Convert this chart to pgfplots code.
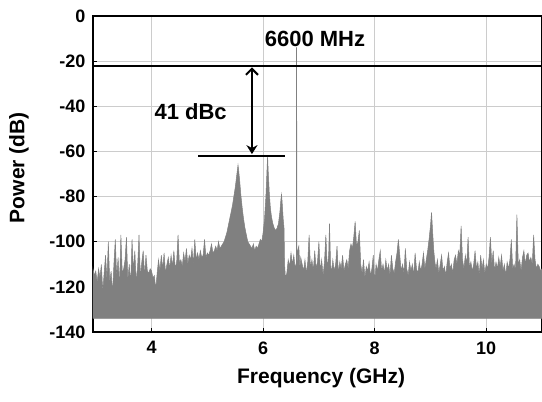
\documentclass[border=0pt]{standalone}
\usepackage{fontspec}
\setmainfont{Liberation Sans}
\usepackage{pgfplots}
\pgfplotsset{compat=1.18}
\usetikzlibrary{arrows.meta}

\begin{document}
\begin{tikzpicture}
\begin{axis}[
  scale only axis,
  width=449pt, height=316pt,
  xmin=2.95, xmax=11, ymin=-140, ymax=0,
  xtick={4,6,8,10},
  ytick={-140,-120,-100,-80,-60,-40,-20,0},
  tick pos=left,
  grid=major,
  grid style={black!20, line width=1pt},
  axis line style={black, line width=1.5pt},
  major tick style={black, line width=0.9pt},
  /pgf/number format/assume math mode=true,
  tick label style={font=\fontsize{18}{20}\selectfont\bfseries},
  xticklabel style={yshift=-6pt},
  yticklabel style={xshift=-4pt},
  label style={font=\fontsize{21}{24}\selectfont\bfseries},
  xlabel={Frequency (GHz)},
  ylabel={Power (dB)},
  xlabel style={at={(axis description cs:0.508,-0.146)}, anchor=center},
  ylabel style={at={(axis description cs:-0.165,0.52)}, anchor=center},
]
% spectrum trace, filled down to the -134 dB floor
\addplot[draw=gray, line width=0.5pt, fill=gray] coordinates {
(2.950,-134)
(2.950,-112) (2.975,-115) (3.000,-113) (3.025,-118) (3.050,-112) (3.075,-116)
(3.100,-110) (3.125,-122) (3.150,-114) (3.175,-106) (3.200,-117) (3.225,-100)
(3.250,-118) (3.275,-113) (3.300,-123) (3.325,-110) (3.350,-99) (3.375,-116)
(3.400,-107) (3.425,-120) (3.450,-97) (3.475,-114) (3.500,-112) (3.525,-108)
(3.550,-98) (3.575,-117) (3.600,-110) (3.625,-119) (3.650,-99) (3.675,-113)
(3.700,-104) (3.725,-118) (3.750,-111) (3.775,-97) (3.800,-116) (3.825,-109)
(3.850,-104) (3.875,-115) (3.900,-106) (3.925,-113) (3.950,-114) (3.975,-112)
(4.000,-113) (4.025,-116) (4.050,-115) (4.075,-121) (4.100,-114)
(4.125,-108) (4.150,-113) (4.175,-106) (4.200,-112) (4.225,-105) (4.250,-114)
(4.275,-110) (4.300,-107) (4.325,-112) (4.350,-106) (4.375,-111) (4.400,-104)
(4.425,-112) (4.450,-109) (4.475,-97) (4.500,-110) (4.525,-108) (4.550,-111)
(4.575,-105) (4.600,-109) (4.625,-103) (4.650,-110) (4.675,-106) (4.700,-108)
(4.725,-103) (4.750,-110) (4.775,-99) (4.800,-108) (4.825,-105) (4.850,-108)
(4.875,-104) (4.900,-107) (4.925,-106) (4.950,-99) (4.975,-107) (5.000,-105)
(5.025,-106) (5.050,-104) (5.075,-101) (5.100,-105) (5.125,-104) (5.150,-102)
(5.175,-104) (5.200,-100) (5.225,-103) (5.250,-102)
(5.275,-101) (5.300,-100) (5.325,-98) (5.350,-96) (5.375,-93) (5.400,-90)
(5.425,-87) (5.450,-84) (5.475,-80) (5.500,-76) (5.520,-72) (5.540,-68)
(5.550,-66) (5.560,-68) (5.580,-73) (5.600,-79) (5.625,-85) (5.650,-90)
(5.675,-94) (5.700,-97) (5.725,-100) (5.750,-101) (5.775,-102) (5.800,-103)
(5.825,-101) (5.850,-104) (5.875,-102) (5.900,-103) (5.925,-101) (5.950,-99)
(5.975,-100) (6.000,-96)
(6.025,-90) (6.050,-80) (6.070,-68) (6.080,-62) (6.090,-68) (6.110,-78)
(6.130,-85) (6.150,-89) (6.175,-92) (6.200,-94) (6.225,-95) (6.250,-94)
(6.275,-92) (6.300,-87) (6.320,-81) (6.330,-79) (6.340,-82) (6.360,-90)
(6.375,-94) (6.385,-110) (6.400,-116) (6.425,-114) (6.450,-108) (6.475,-111)
(6.500,-105) (6.525,-110) (6.550,-106) (6.575,-112) (6.590,-110)
(6.595,-112) (6.598,-14) (6.602,-14) (6.605,-112)
(6.620,-104) (6.640,-102) (6.660,-112) (6.675,-107)
(6.700,-110) (6.725,-113) (6.750,-108) (6.775,-114) (6.800,-109) (6.825,-97)
(6.850,-112) (6.875,-108) (6.900,-113) (6.925,-104) (6.950,-112) (6.975,-109)
(7.000,-100) (7.025,-113) (7.050,-108) (7.075,-115) (7.100,-109) (7.125,-97)
(7.150,-112) (7.175,-106) (7.190,-92) (7.210,-110) (7.225,-114) (7.250,-108)
(7.275,-113) (7.300,-110) (7.325,-102) (7.350,-114) (7.375,-109) (7.400,-112)
(7.425,-106) (7.450,-113) (7.475,-110) (7.500,-108) (7.525,-112) (7.550,-104)
(7.575,-101) (7.600,-103) (7.625,-98) (7.650,-91) (7.675,-102) (7.700,-100)
(7.725,-95) (7.750,-110) (7.775,-114) (7.800,-108) (7.825,-116) (7.850,-111)
(7.875,-113) (7.900,-109) (7.925,-115) (7.950,-112) (7.975,-106) (8.000,-118)
(8.025,-110) (8.050,-113) (8.075,-108) (8.100,-104) (8.125,-113) (8.150,-110)
(8.175,-114) (8.200,-108) (8.225,-113) (8.250,-110) (8.275,-115) (8.300,-106)
(8.325,-112) (8.350,-114) (8.375,-109) (8.400,-105) (8.425,-99) (8.450,-106)
(8.475,-113) (8.500,-110) (8.525,-114) (8.550,-103) (8.575,-112) (8.600,-115)
(8.625,-109) (8.650,-113) (8.675,-110) (8.700,-115) (8.725,-105) (8.750,-112)
(8.775,-114) (8.800,-109) (8.825,-113) (8.850,-110) (8.875,-105) (8.900,-112)
(8.925,-108) (8.950,-104) (8.975,-99) (9.000,-93) (9.020,-87) (9.040,-96)
(9.060,-104) (9.080,-109) (9.100,-112) (9.125,-108) (9.150,-114) (9.175,-110)
(9.200,-106) (9.225,-113) (9.250,-111) (9.275,-115) (9.300,-109) (9.325,-105)
(9.350,-112) (9.375,-110) (9.400,-114) (9.425,-108) (9.450,-106) (9.475,-110)
(9.500,-104) (9.525,-106) (9.550,-93) (9.575,-108) (9.600,-112) (9.625,-106)
(9.650,-110) (9.675,-98) (9.700,-112) (9.725,-109) (9.750,-113) (9.775,-110)
(9.800,-104) (9.825,-112) (9.850,-109) (9.875,-115) (9.900,-106) (9.925,-112)
(9.950,-108) (9.975,-114) (10.000,-110) (10.025,-112) (10.050,-107) (10.075,-98)
(10.100,-110) (10.125,-104) (10.150,-113) (10.175,-109) (10.200,-112) (10.225,-107)
(10.250,-111) (10.275,-106) (10.300,-113) (10.325,-110) (10.350,-115) (10.375,-109)
(10.400,-112) (10.425,-108) (10.450,-99) (10.475,-112) (10.500,-110) (10.525,-113)
(10.550,-88) (10.575,-110) (10.600,-108) (10.625,-113) (10.650,-107) (10.675,-104)
(10.700,-110) (10.725,-106) (10.750,-105) (10.775,-109) (10.800,-107) (10.825,-110)
(10.850,-97) (10.875,-108) (10.900,-112) (10.925,-110) (10.950,-111) (10.975,-113)
(11.000,-112)
(11.000,-134)
} -- cycle;

% carrier level and spur level markers
\addplot[black, line width=2pt] coordinates {(2.95,-22) (11,-22)};
\addplot[black, line width=1.5pt] coordinates {(4.84,-62) (6.39,-62)};
\draw[black, line width=2pt,
  {Straight Barb[length=6pt,width=12pt]}-{Stealth[length=9pt,width=11pt]}]
  (axis cs:5.80,-22.8) -- (axis cs:5.80,-61.2);

\node[font=\fontsize{22}{24}\selectfont\bfseries] at (axis cs:6.93,-10.2) {6600 MHz};
\node[font=\fontsize{22}{24}\selectfont\bfseries] at (axis cs:4.70,-42.2) {41 dBc};

\coordinate (bl) at (rel axis cs:-0.2071,-0.2215);
\coordinate (tr) at (rel axis cs:1,1.0506);
\end{axis}
\pgfresetboundingbox
\useasboundingbox (bl) rectangle (tr);
\end{tikzpicture}
\end{document}
